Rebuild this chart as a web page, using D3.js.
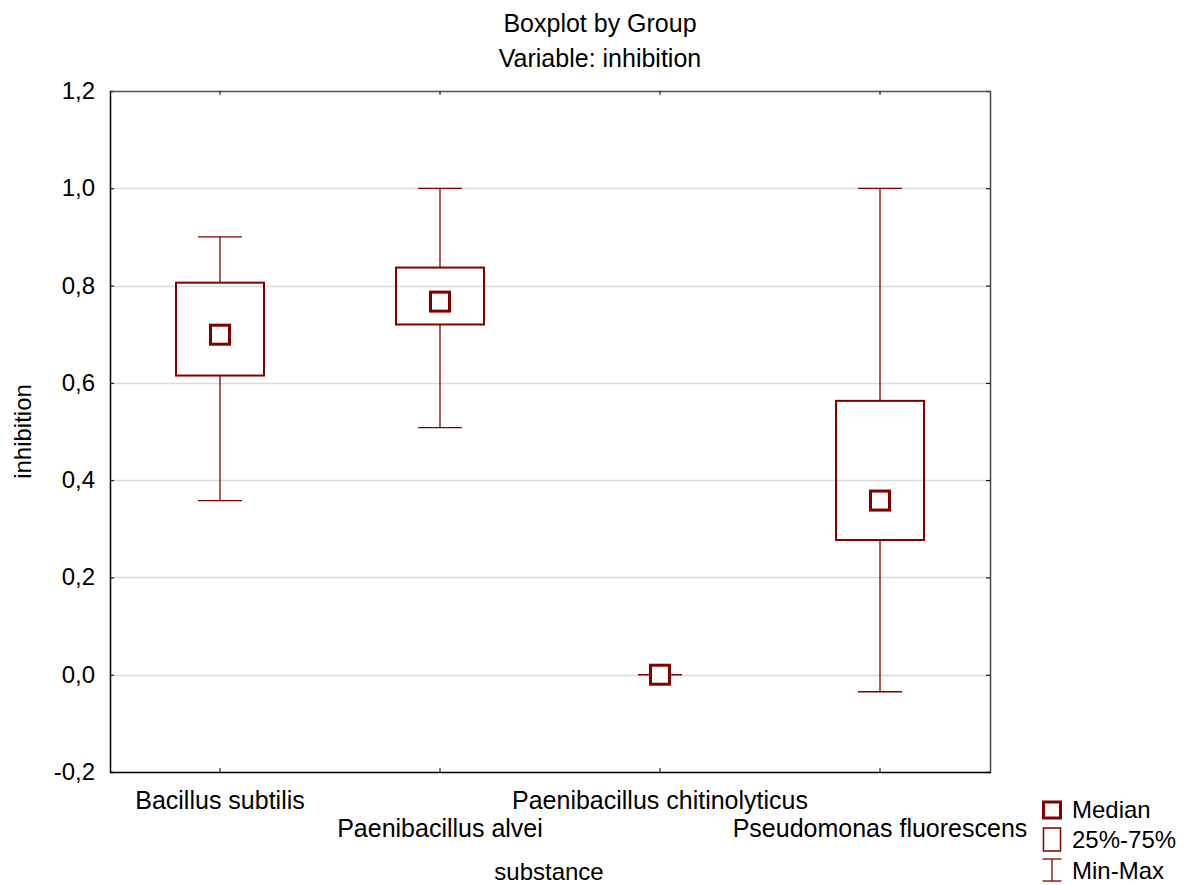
<!DOCTYPE html>
<html>
<head>
<meta charset="UTF-8">
<title>Boxplot by Group</title>
<style>
  body { margin: 0; background: #fff; }
  svg { font-family: "Liberation Sans", Arial, sans-serif; }
</style>
</head>
<body>
<svg></svg>
<script src="https://d3js.org/d3.v7.min.js"></script>
<script>

let width = 1186, height = 885;

// data
let groups = ["Bacillus subtilis", "Paenibacillus alvei", "Paenibacillus chitinolyticus", "Pseudomonas fluorescens"];
let mins    = [0.358, 0.508, 0.0, -0.035];
let q1s     = [0.615, 0.720, 0.0, 0.277];
let medians = [0.699, 0.767, 0.0, 0.358];
let q3s     = [0.806, 0.837, 0.0, 0.563];
let maxs    = [0.900, 1.000, 0.0, 1.000];
let yTicks  = [-0.2, 0.0, 0.2, 0.4, 0.6, 0.8, 1.0, 1.2];
let gridTicks = [0.0, 0.2, 0.4, 0.6, 0.8, 1.0];
let legendItems = ["Median", "25%-75%", "Min-Max"];

let rows = groups.map((g, i) => ({
  name: g, min: mins[i], q1: q1s[i], med: medians[i], q3: q3s[i], max: maxs[i], i: i
}));

let col = "#800000";
let fs = 24;
let margin = {left: 110, right: 196, top: 91, bottom: 113};

let svg = d3.select("svg")
  .attr("width", width)
  .attr("height", height);

let x = d3.scaleBand()
  .domain(groups)
  .range([margin.left, width - margin.right]);

let y = d3.scaleLinear()
  .domain([-0.2, 1.2])
  .range([height - margin.bottom, margin.top]);

let fmt = d3.formatLocale({decimal: ",", thousands: ".", grouping: [3], currency: ["", ""], minus: "-"}).format(".1f");

// grid
svg.append("g")
  .selectAll("line")
  .data(gridTicks)
  .enter()
  .append("line")
  .attr("x1", margin.left)
  .attr("x2", width - margin.right)
  .attr("y1", d => Math.round(y(d)) + 0.5)
  .attr("y2", d => Math.round(y(d)) + 0.5)
  .attr("stroke", "#d9d9d9")
  .attr("stroke-width", 1.5);

// axes with inner ticks
let axLeft = svg.append("g")
  .attr("transform", "translate(" + margin.left + ",0)")
  .call(d3.axisRight(y).tickValues(yTicks).tickSize(4).tickFormat(""));
axLeft.select(".domain").attr("stroke", "#000").attr("stroke-width", 1.5);

svg.append("g")
  .selectAll("text")
  .data(yTicks)
  .enter()
  .append("text")
  .attr("x", 95)
  .attr("y", d => y(d) + 8)
  .attr("text-anchor", "end")
  .attr("font-size", fs)
  .text(d => fmt(d));

let axRight = svg.append("g")
  .attr("transform", "translate(" + (width - margin.right) + ",0)")
  .call(d3.axisLeft(y).tickValues(yTicks).tickSize(4).tickFormat(""));
axRight.select(".domain").attr("stroke", "#444").attr("stroke-width", 1.5);

let axBottom = svg.append("g")
  .attr("transform", "translate(0," + (height - margin.bottom) + ")")
  .call(d3.axisTop(x).tickSize(4).tickSizeOuter(0).tickFormat(""));
axBottom.select(".domain").attr("stroke", "#000").attr("stroke-width", 1.5);

let axTop = svg.append("g")
  .attr("transform", "translate(0," + margin.top + ")")
  .call(d3.axisBottom(x).tickSize(4).tickSizeOuter(0).tickFormat(""));
axTop.select(".domain").attr("stroke", "#555").attr("stroke-width", 1.5);

// staggered category labels
svg.append("g")
  .selectAll("text")
  .data(rows)
  .enter()
  .append("text")
  .attr("x", d => x(d.name) + x.bandwidth() / 2)
  .attr("y", d => d.i % 2 == 0 ? 809 : 837)
  .attr("text-anchor", "middle")
  .attr("font-size", 25)
  .text(d => d.name);

// titles
svg.append("text").attr("x", 600).attr("y", 32).attr("text-anchor", "middle")
  .attr("font-size", 25).text("Boxplot by Group");
svg.append("text").attr("x", 600).attr("y", 67).attr("text-anchor", "middle")
  .attr("font-size", 25).text("Variable: inhibition");
svg.append("text").attr("x", 549).attr("y", 880).attr("text-anchor", "middle")
  .attr("font-size", fs).text("substance");
svg.append("text")
  .attr("transform", "translate(31," + ((margin.top + height - margin.bottom) / 2) + ") rotate(-90)")
  .attr("text-anchor", "middle")
  .attr("font-size", fs)
  .text("inhibition");

// boxes
let boxW = 88, capW = 44, medW = 19;
let g = svg.append("g")
  .selectAll("g")
  .data(rows)
  .enter()
  .append("g")
  .attr("transform", d => "translate(" + (x(d.name) + x.bandwidth() / 2) + ",0)");

// whiskers
g.append("line")
  .attr("x1", 0).attr("x2", 0)
  .attr("y1", d => y(d.max)).attr("y2", d => y(d.q3))
  .attr("stroke", col).attr("stroke-width", 1.3);
g.append("line")
  .attr("x1", 0).attr("x2", 0)
  .attr("y1", d => y(d.q1)).attr("y2", d => y(d.min))
  .attr("stroke", col).attr("stroke-width", 1.3);
g.append("line")
  .attr("x1", -capW / 2).attr("x2", capW / 2)
  .attr("y1", d => y(d.max)).attr("y2", d => y(d.max))
  .attr("stroke", col).attr("stroke-width", 1.3);
g.append("line")
  .attr("x1", -capW / 2).attr("x2", capW / 2)
  .attr("y1", d => y(d.min)).attr("y2", d => y(d.min))
  .attr("stroke", col).attr("stroke-width", 1.3);

g.append("rect")
  .attr("x", -boxW / 2)
  .attr("width", boxW)
  .attr("y", d => y(d.q3))
  .attr("height", d => y(d.q1) - y(d.q3))
  .attr("fill", "none")
  .attr("stroke", col)
  .attr("stroke-width", 2);

g.append("rect")
  .attr("x", -medW / 2)
  .attr("width", medW)
  .attr("y", d => y(d.med) - medW / 2)
  .attr("height", medW)
  .attr("fill", "#fff")
  .attr("stroke", col)
  .attr("stroke-width", 3);

// legend
let lx = 1052;
let legY = [818, 848, 879];
let leg = svg.append("g");
leg.append("rect").attr("x", lx - 8.5).attr("y", 802).attr("width", 17).attr("height", 16)
  .attr("fill", "none").attr("stroke", col).attr("stroke-width", 3);
leg.append("rect").attr("x", lx - 8.5).attr("y", 828).attr("width", 17).attr("height", 23)
  .attr("fill", "none").attr("stroke", col).attr("stroke-width", 1.5);
leg.append("line").attr("x1", lx).attr("x2", lx).attr("y1", 859).attr("y2", 881)
  .attr("stroke", col).attr("stroke-width", 1.3);
leg.append("line").attr("x1", lx - 9.5).attr("x2", lx + 9.5).attr("y1", 859).attr("y2", 859)
  .attr("stroke", col).attr("stroke-width", 1.3);
leg.append("line").attr("x1", lx - 9.5).attr("x2", lx + 9.5).attr("y1", 881).attr("y2", 881)
  .attr("stroke", col).attr("stroke-width", 1.3);
leg.selectAll("text")
  .data(legendItems)
  .enter()
  .append("text")
  .attr("x", 1072)
  .attr("y", (d, i) => legY[i])
  .attr("font-size", fs)
  .text(d => d);

</script>
</body>
</html>
